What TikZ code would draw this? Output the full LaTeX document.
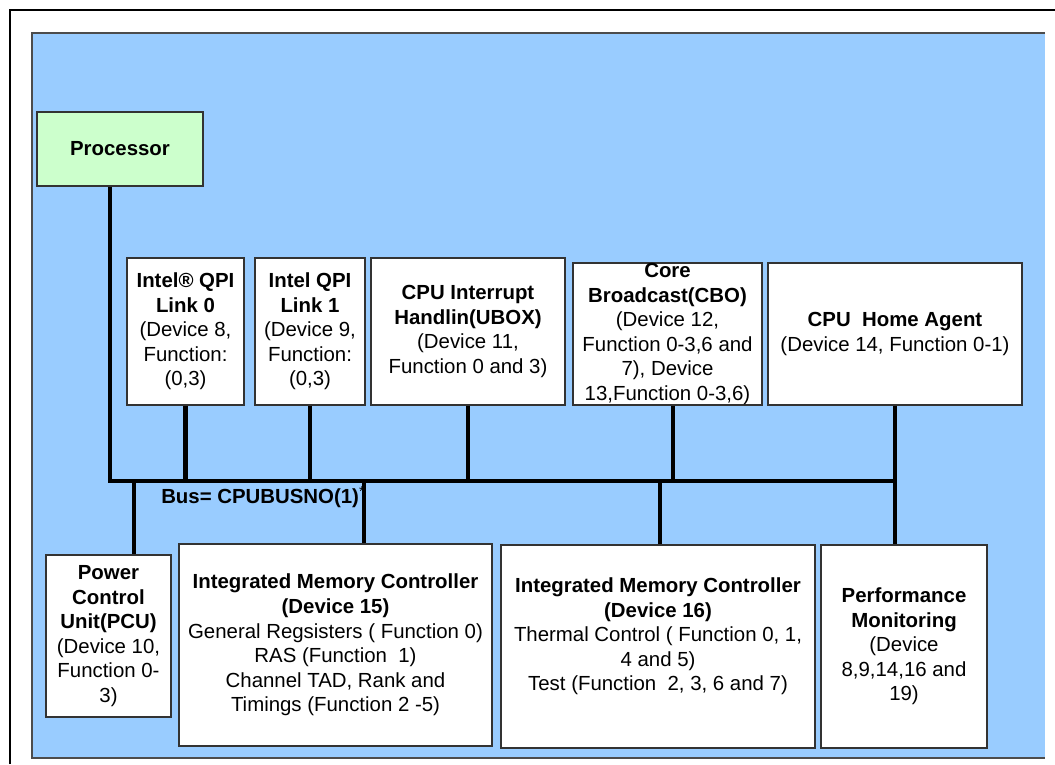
\documentclass[tikz,border=0pt]{standalone}
\usepackage{fontspec}
\setmainfont{Liberation Sans}
\definecolor{panelblue}{RGB}{153,204,255}
\definecolor{procgreen}{RGB}{204,255,204}
\tikzset{
	unit/.style={draw=black!80, line width=1pt, fill=white, align=center, inner sep=0pt,
		font=\fontsize{15.3}{18.4}\selectfont},
	link/.style={line width=3.6pt},
}
\begin{document}
	\begin{tikzpicture}[x=0.75pt,y=0.75pt,yscale=-1,xscale=1]
		\useasboundingbox (0,0) rectangle (1055,764);

		%Frame and panel
		\draw [line width=1.5pt] (10,764) -- (10,10) -- (1055,10) ;
		\fill [panelblue] (32,33) rectangle (1045,758) ;
		\draw [black!70, line width=1pt] (1045,33) -- (32,33) -- (32,758) -- (1045,758) ;

		%Processor
		\node [unit, fill=procgreen, minimum width=124.5pt, minimum height=55.5pt] (proc) at (120,149) {\textbf{Processor}};

		%Upper units
		\node [unit, minimum width=87.75pt, minimum height=110.25pt] (qpi0) at (185.5,331.5) {\textbf{Intel® QPI}\\\textbf{Link 0}\\(Device 8,\\Function:\\(0,3)};
		\node [unit, minimum width=82.5pt, minimum height=110.25pt] (qpi1) at (310,331.5) {\textbf{Intel QPI}\\\textbf{Link 1}\\(Device 9,\\Function:\\(0,3)};
		\node [unit, minimum width=145.5pt, minimum height=110.25pt] (ubox) at (468,331.5) {\textbf{CPU Interrupt}\\\textbf{Handlin(UBOX)}\\(Device 11,\\Function 0 and 3)};
		\node [unit, minimum width=141.75pt, minimum height=106.5pt] (cbo) at (667.5,334) {\textbf{Core}\\\textbf{Broadcast(CBO)}\\(Device 12,\\Function 0-3,6 and\\7), Device\\13,Function 0-3,6)};
		\node [unit, minimum width=190.5pt, minimum height=106.5pt] (home) at (895,334) {\textbf{CPU\ \ Home Agent}\\(Device 14, Function 0-1)};

		%Lower units
		\node [unit, minimum width=93.75pt, minimum height=121.5pt] (pcu) at (108.5,636) {\textbf{Power}\\\textbf{Control}\\\textbf{Unit(PCU)}\\(Device 10,\\Function 0-\\3)};
		\node [unit, minimum width=234.75pt, minimum height=151.5pt] (imc15) at (335.5,645) {\textbf{Integrated Memory Controller}\\\textbf{(Device 15)}\\General Regsisters ( Function 0)\\RAS (Function\ \ 1)\\Channel TAD, Rank and\\Timings (Function 2 -5)};
		\node [unit, minimum width=235.5pt, minimum height=152.25pt] (imc16) at (658,646.5) {\textbf{Integrated Memory Controller}\\\textbf{(Device 16)}\\Thermal Control ( Function 0, 1,\\4 and 5)\\Test (Function\ \ 2, 3, 6 and 7)\\~};
		\node [unit, minimum width=124.5pt, minimum height=152.25pt] (perf) at (904,646.5) {\textbf{Performance}\\\textbf{Monitoring}\\(Device\\8,9,14,16 and\\19)};

		% Text Node
		\node [anchor=west, inner sep=0pt, font=\fontsize{15.3}{18.4}\selectfont] (buslbl) at (161,497) {\textbf{Bus= CPUBUSNO(1)}\textsuperscript{*}};

		%Bus
		\coordinate (bus0) at (110,481);
		\coordinate (bus1) at (896,481);
		\coordinate (tappcu) at (134,481);
		\coordinate (tapimc) at (364,481);
		\coordinate (tapcbo) at (673,481);
		\coordinate (tapimct) at (660,481);
		\draw [link] (proc.south -| bus0) -- (bus0) -- (bus1) ;
		\foreach \u in {qpi0,qpi1,ubox,home}
			\draw [link] (\u.south) -- (\u.south |- bus0) ;
		\draw [link] (cbo.south -| tapcbo) -- (tapcbo) ;
		\draw [link] (tappcu) -- (tappcu |- pcu.north) ;
		\draw [link] (tapimc) -- (tapimc |- imc15.north) ;
		\draw [link] (tapimct) -- (tapimct |- imc16.north) ;
		\draw [link] (home.south |- bus0) -- (home.south |- perf.north) ;

	\end{tikzpicture}
\end{document}
